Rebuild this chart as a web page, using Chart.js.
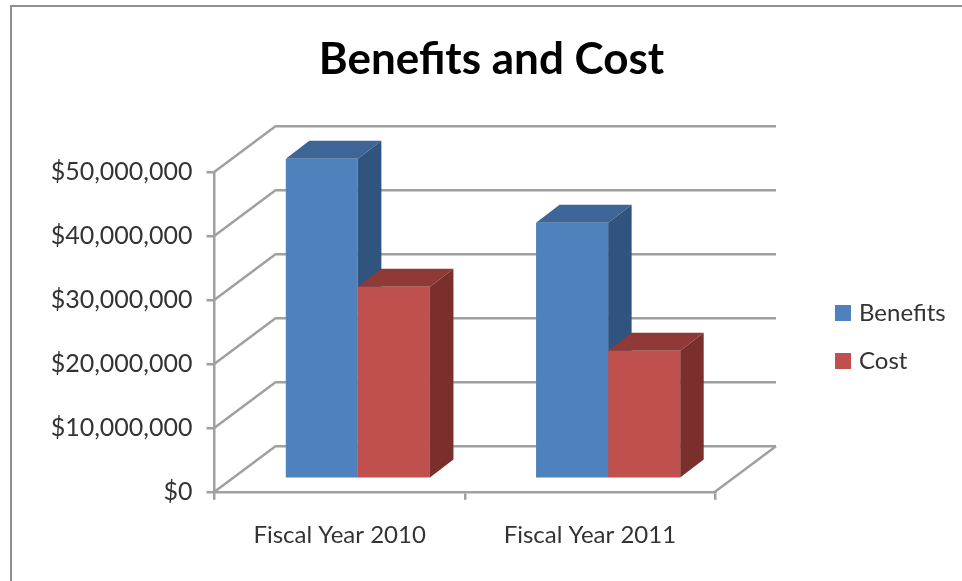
<!DOCTYPE html>
<html>
<head>
<meta charset="utf-8">
<style>
html, body { margin: 0; background: #fff; overflow: hidden; }
#frame { position: absolute; left: 10px; top: 5px; right: 0; bottom: 0; border-left: 2px solid #8f8f8f; border-top: 2px solid #8f8f8f; }
canvas { position: absolute; left: 0; top: 0; filter: blur(0.6px); }
</style>
<script src="https://cdn.jsdelivr.net/npm/chart.js@4"></script>
</head>
<body>
<div id="frame"></div>
<canvas id="benefitsCost" width="962" height="581"></canvas>
<script>
const categories = ["Fiscal Year 2010", "Fiscal Year 2011"];
const benefits = [50000000, 40000000];
const cost = [30000000, 20000000];

const gridColor = "#a0a0a0";
const textColor = "#333333";
const fontFamily = "Lato";
const wall = { x: 61, y: -45.5 };
const barShift = { x: 18.25, y: -13 };
const barDepth = { x: 23.5, y: -18 };
const faceColors = [
    { top: "#3d6596", side: "#31547f" },
    { top: "#8f3a37", side: "#7a2f2d" }
];

function polygon(ctx, color, pts) {
    ctx.fillStyle = color;
    ctx.beginPath();
    pts.forEach((p, i) => i ? ctx.lineTo(p[0], p[1]) : ctx.moveTo(p[0], p[1]));
    ctx.closePath();
    ctx.fill();
}

const box3d = {
    id: "box3d",
    beforeLayout(chart) {
        // legend sits far from the plot, keep its layout box wide
        const legend = chart.legend;
        if (legend._wide) return;
        const fit = legend.fit;
        legend.fit = function () {
            fit.call(this);
            this.width = 247;
        };
        legend._wide = true;
    },
    afterLayout(chart) {
        chart.legend.left = 815;
        chart.legend.top = 277;
        chart.titleBlock.left = 21;
    },
    beforeDatasetsDraw(chart) {
        const ctx = chart.ctx;
        const area = chart.chartArea;
        const yScale = chart.scales.y;

        // back wall and floor lines
        ctx.save();
        ctx.strokeStyle = gridColor;
        ctx.lineWidth = 2.5;
        yScale.ticks.forEach((t, i) => {
            const y = yScale.getPixelForTick(i);
            ctx.beginPath();
            ctx.moveTo(area.left, y);
            ctx.lineTo(area.left + wall.x, y + wall.y);
            ctx.lineTo(area.right + wall.x, y + wall.y);
            ctx.stroke();
        });
        ctx.beginPath();
        ctx.moveTo(area.right, area.bottom);
        ctx.lineTo(area.right + wall.x, area.bottom + wall.y);
        ctx.stroke();
        ctx.restore();

        // top and side of every bar, the fronts come from the library
        ctx.save();
        ctx.translate(barShift.x, barShift.y);
        chart.data.datasets.forEach((ds, d) => {
            chart.getDatasetMeta(d).data.forEach(bar => {
                const p = bar.getProps(["x", "y", "base", "width"], true);
                const l = p.x - p.width / 2, r = p.x + p.width / 2;
                polygon(ctx, faceColors[d].top, [[l, p.y], [l + barDepth.x, p.y + barDepth.y], [r + barDepth.x, p.y + barDepth.y], [r, p.y]]);
                polygon(ctx, faceColors[d].side, [[r, p.y], [r + barDepth.x, p.y + barDepth.y], [r + barDepth.x, p.base + barDepth.y], [r, p.base]]);
            });
        });
        ctx.restore();

        ctx.save();
        ctx.translate(barShift.x, barShift.y);
    },
    afterDatasetsDraw(chart) {
        chart.ctx.restore();
    }
};

new Chart(document.getElementById("benefitsCost"), {
    type: "bar",
    data: {
        labels: categories,
        datasets: [
            { label: "Benefits", data: benefits, backgroundColor: "#4f81bd", barPercentage: 1, categoryPercentage: 0.576 },
            { label: "Cost", data: cost, backgroundColor: "#c0504d", barPercentage: 1, categoryPercentage: 0.576 }
        ]
    },
    options: {
        responsive: false,
        animation: false,
        layout: { autoPadding: false, padding: 0 },
        plugins: {
            tooltip: { enabled: false },
            title: {
                display: true,
                text: "Benefits and Cost",
                color: "#000",
                font: { family: fontFamily, size: 44, weight: "bold", lineHeight: 1.2 },
                padding: { top: 33, bottom: 86 }
            },
            legend: {
                position: "right",
                align: "start",
                labels: {
                    boxWidth: 8,
                    boxHeight: 8,
                    padding: 24,
                    color: textColor,
                    font: { family: fontFamily, size: 24 },
                    // thick outline makes a 16px swatch with the text close to it
                    generateLabels(chart) {
                        return Chart.defaults.plugins.legend.labels.generateLabels(chart).map(item => {
                            item.strokeStyle = item.fillStyle;
                            item.lineWidth = 8;
                            item.lineJoin = "miter";
                            return item;
                        });
                    }
                }
            }
        },
        scales: {
            x: {
                afterFit(scale) { scale.height = 89.2; },
                grid: { drawOnChartArea: false, color: gridColor, tickLength: 8, lineWidth: 2.5 },
                border: { color: gridColor, width: 2.5 },
                ticks: { color: textColor, padding: 21.5, maxRotation: 0, font: { family: fontFamily, size: 24 } }
            },
            y: {
                min: 0,
                max: 50000000,
                afterFit(scale) { scale.width = 214.5; },
                grid: { drawOnChartArea: false, color: gridColor, tickLength: 8, lineWidth: 2.5 },
                border: { color: gridColor, width: 2.5 },
                ticks: {
                    stepSize: 10000000,
                    color: textColor,
                    padding: 14,
                    font: { family: fontFamily, size: 25 },
                    callback: v => "$" + v.toLocaleString("en-US")
                }
            }
        }
    },
    plugins: [box3d]
});
</script>
</body>
</html>
